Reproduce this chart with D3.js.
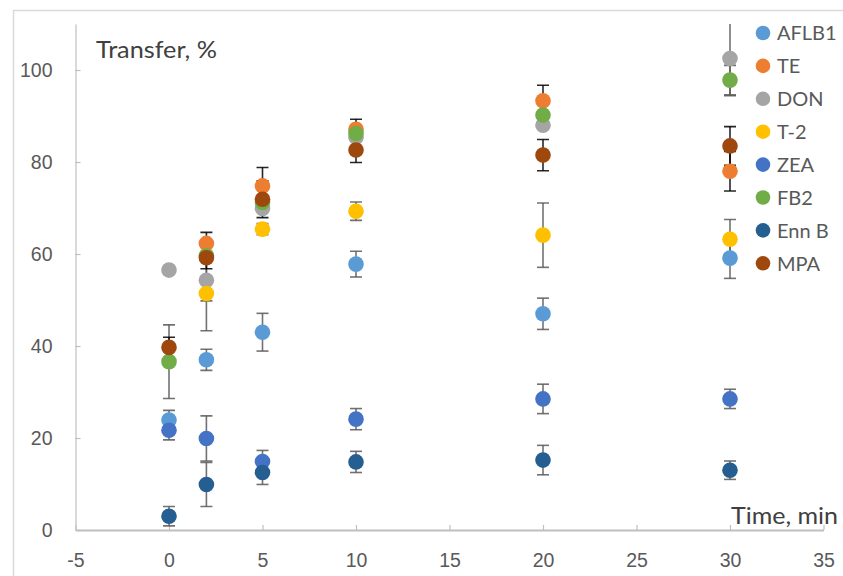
<!DOCTYPE html>
<html>
<head>
<meta charset="utf-8">
<script src="https://cdn.jsdelivr.net/npm/d3@7"></script>
<style>
  html, body { margin: 0; padding: 0; background: #fff; }
  svg { display: block; font-family: Lato, "Open Sans", sans-serif; }
</style>
</head>
<body>
<svg id="chart" width="843" height="576"></svg>
<script>
// Sampling times (min)
const times = [0, 2, 5, 10, 20, 30];

// Series names, colours and transfer values (%), with ± error
const seriesNames = ["AFLB1", "TE", "DON", "T-2", "ZEA", "FB2", "Enn B", "MPA"];
const seriesColors = ["#5B9BD5", "#ED7D31", "#A5A5A5", "#FFC000", "#4472C4", "#70AD47", "#255E91", "#9E480E"];
const errColors = ["#595959", "#000000", "#595959", "#595959", "#595959", "#595959", "#595959", "#000000"];

const aflb1 = [23.9, 37.0, 43.0, 57.8, 47.0, 59.1];
const aflb1Err = [2.1, 2.3, 4.1, 2.8, 3.4, 4.4];
const te = [null, 62.3, 74.8, 87.1, 93.3, 78.0];
const teErr = [null, 2.4, 4.0, 2.2, 3.4, 4.3];
const don = [56.5, 54.3, 69.9, 85.4, 88.0, 102.5];
const donErr = [null, 4.5, null, null, null, 8.1];
const t2 = [null, 51.4, 65.4, 69.3, 64.1, 63.2];
const t2Err = [null, 8.1, 1.2, 2.0, 7.0, 4.3];
const zea = [21.7, 19.9, 14.9, 24.1, 28.5, 28.5];
const zeaErr = [2.1, 4.9, 2.4, 2.3, 3.2, 2.1];
const fb2 = [36.6, 59.6, 71.2, 86.2, 90.2, 97.8];
const fb2Err = [8.0, null, null, null, null, 3.2];
const ennB = [3.0, 9.9, 12.5, 14.8, 15.2, 13.0];
const ennBErr = [2.1, 4.8, 2.6, 2.3, 3.2, 2.0];
const mpa = [39.7, 59.2, 71.9, 82.6, 81.5, 83.5];
const mpaErr = [2.2, 2.4, 4.0, 2.7, 3.4, 4.2];

const seriesValues = [aflb1, te, don, t2, zea, fb2, ennB, mpa];
const seriesErrors = [aflb1Err, teErr, donErr, t2Err, zeaErr, fb2Err, ennBErr, mpaErr];

const xTicks = [-5, 0, 5, 10, 15, 20, 25, 30, 35];
const yTicks = [0, 20, 40, 60, 80, 100];

const svg = d3.select("#chart");
const textColor = "#595959";
const axisColor = "#BFBFBF";

const x = d3.scaleLinear().domain([-5, 35]).range([75.5, 823.5]);
const y = d3.scaleLinear().domain([0, 110]).range([530, 24]);

// Outer chart frame
svg.append("rect")
  .attr("x", 13.5).attr("y", 10.5)
  .attr("width", 1000).attr("height", 1000)
  .attr("fill", "none").attr("stroke", "#D9D9D9").attr("stroke-width", 1.5);

// Plot clip
svg.append("clipPath").attr("id", "plotClip")
  .append("rect")
  .attr("x", x(-5)).attr("y", y(110))
  .attr("width", x(35) - x(-5)).attr("height", y(0) - y(110));

// Plain hyphen for negative tick labels
const fmt = d => String(d);

// Y axis
const yAxis = svg.append("g")
  .attr("transform", `translate(${x(-5)},0)`)
  .call(d3.axisLeft(y).tickValues(yTicks).tickFormat(fmt).tickSizeInner(-5).tickSizeOuter(0).tickPadding(23));
yAxis.select(".domain").attr("stroke", axisColor).attr("stroke-width", 1.2);
yAxis.selectAll(".tick line").attr("stroke", axisColor).attr("stroke-width", 1.2);
yAxis.selectAll(".tick text").attr("fill", textColor).style("font-size", "19.5px").attr("font-family", null);

// X axis
const xAxis = svg.append("g")
  .attr("transform", `translate(0,${y(0)})`)
  .call(d3.axisBottom(x).tickValues(xTicks).tickFormat(fmt).tickSizeInner(-5).tickSizeOuter(0).tickPadding(23));
xAxis.select(".domain").attr("stroke", axisColor).attr("stroke-width", 2);
xAxis.selectAll(".tick line").attr("stroke", axisColor).attr("stroke-width", 1.2);
xAxis.selectAll(".tick text").attr("fill", textColor).style("font-size", "19.5px").attr("font-family", null);

// Axis titles
svg.append("text")
  .attr("x", 96).attr("y", 58)
  .attr("fill", "#404040").style("font-size", "23px")
  .attr("textLength", 121).attr("lengthAdjust", "spacingAndGlyphs")
  .text("Transfer, %");
svg.append("text")
  .attr("x", 731).attr("y", 524)
  .attr("fill", "#404040").style("font-size", "23px")
  .attr("textLength", 107).attr("lengthAdjust", "spacingAndGlyphs")
  .text("Time, min");

// Error bars (drawn under the markers)
const errLayer = svg.append("g").attr("clip-path", "url(#plotClip)");
const cap = 6;
seriesValues.forEach((vals, si) => {
  const errs = seriesErrors[si];
  vals.forEach((v, i) => {
    const e = errs[i];
    if (v == null || e == null) return;
    const cx = x(times[i]);
    const g = errLayer.append("g")
      .attr("stroke", errColors[si]).attr("stroke-width", 1.6).attr("stroke-opacity", 0.85);
    g.append("line").attr("x1", cx).attr("x2", cx).attr("y1", y(v + e)).attr("y2", y(v - e));
    g.append("line").attr("x1", cx - cap).attr("x2", cx + cap).attr("y1", y(v + e)).attr("y2", y(v + e));
    g.append("line").attr("x1", cx - cap).attr("x2", cx + cap).attr("y1", y(v - e)).attr("y2", y(v - e));
  });
});

// Markers
const markerLayer = svg.append("g");
seriesValues.forEach((vals, si) => {
  markerLayer.append("g")
    .selectAll("circle")
    .data(vals.map((v, i) => ({ t: times[i], v })).filter(d => d.v != null))
    .join("circle")
    .attr("cx", d => x(d.t))
    .attr("cy", d => y(d.v))
    .attr("r", 7.8)
    .attr("fill", seriesColors[si]);
});

// Legend
const legend = svg.append("g");
seriesNames.forEach((name, i) => {
  const ly = 33 + i * 32.9;
  legend.append("circle").attr("cx", 763).attr("cy", ly).attr("r", 7.3).attr("fill", seriesColors[i]);
  legend.append("text")
    .attr("x", 777).attr("y", ly).attr("dy", "0.36em")
    .attr("fill", textColor).style("font-size", "20px")
    .text(name);
});
</script>
</body>
</html>
